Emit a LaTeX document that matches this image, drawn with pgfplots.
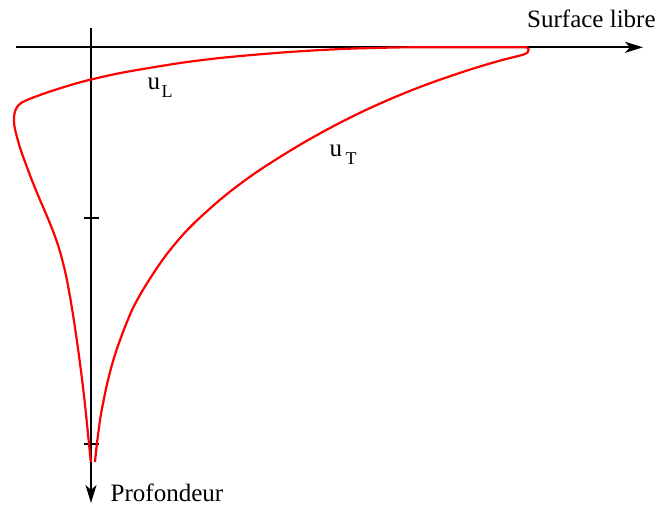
\documentclass[border=0pt]{standalone}
\usepackage{pgfplots}
\pgfplotsset{compat=1.18}
\usepackage{fontspec}
\setmainfont{Liberation Serif}
\usetikzlibrary{arrows.meta}
\begin{document}
\begin{tikzpicture}
\begin{axis}[x=1bp, y=1bp, y dir=reverse, xmin=0, xmax=660, ymin=0, ymax=509,
  hide axis, clip=false]
\addplot[draw=none] coordinates {(0,0) (660,509)};
% axes
\addplot[black, line width=2bp, -{Stealth[length=18bp,width=11bp,inset=5bp]}] coordinates {(16,47.3) (643,47.3)};
\addplot[black, line width=2bp, -{Stealth[length=18bp,width=11bp,inset=5bp]}] coordinates {(91,28) (91,503)};
\addplot[black, line width=2bp] coordinates {(83.5,218) (99,218)};
\addplot[black, line width=2bp] coordinates {(83.5,444) (99,444)};
% u_L
\addplot[red, line width=2.2bp, smooth] coordinates {
(527,47.3) (480,47.3) (430,47.3) (400,47.4) (385,47.7) (352,48.6) (318,50.2) (285,52.3)
(252,55) (218,58.2) (185,62.3) (152,67.5) (118,73.5) (85,81) (60,88.3) (40,95)
(28,99.6) (21,103) (16.8,107.5) (14.6,113) (14,119) (14.3,125) (15.6,131.7) (19.2,145) (22.5,155)
(31.8,180) (40,200) (46.5,215) (54.5,235) (60.4,253) (65.9,275) (70.6,300) (74.6,325)
(78.2,350) (81.5,375) (84.5,400) (87.9,433) (90.8,462)};
% u_T
\addplot[red, line width=2.2bp, smooth] coordinates {
(527,47.5) (528.6,49.3) (528,51.8) (525,54) (519,55.8) (505,59.3) (491,63.2) (476,67.7)
(461.7,72.3) (438,80.4) (414.5,89.1) (389,99.6) (365,110.4) (343,121.2) (322,132.3) (300,144.8)
(279.6,157.2) (257,171.8) (236,187) (220,199.8) (205,213) (192,225.2) (180,238) (165,256.5)
(151,277) (141,293.2) (132,310) (123.8,330) (116.5,350) (111.5,366.5) (107.3,383) (103.7,400)
(100.5,417) (97,443) (95,462)};
% labels
\node[anchor=base west, inner sep=0pt, font=\fontsize{25bp}{30bp}\selectfont] at (axis cs:527,28) {Surface libre};
\node[anchor=base west, inner sep=0pt, font=\fontsize{25bp}{30bp}\selectfont] at (axis cs:110.5,501) {Profondeur};
\node[anchor=base west, inner sep=0pt, font=\fontsize{25bp}{30bp}\selectfont] at (axis cs:147.5,90) {u\hspace{1.5bp}\raisebox{-8bp}{\fontsize{18bp}{20bp}\selectfont L}};
\node[anchor=base west, inner sep=0pt, font=\fontsize{25bp}{30bp}\selectfont] at (axis cs:329.5,157) {u\hspace{3.5bp}\raisebox{-8bp}{\fontsize{18bp}{20bp}\selectfont T}};
\end{axis}
\end{tikzpicture}
\end{document}
